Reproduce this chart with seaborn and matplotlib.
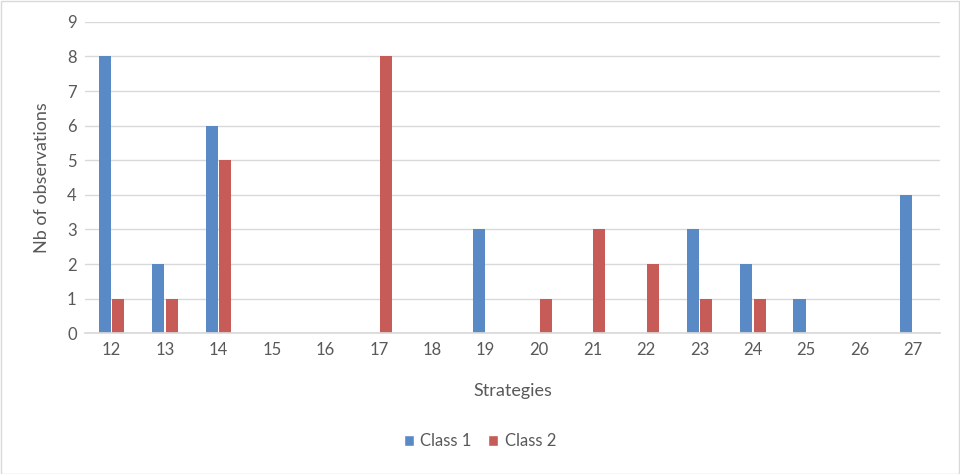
import matplotlib
matplotlib.use("Agg")
import matplotlib.pyplot as plt
import seaborn as sns
import pandas as pd
from matplotlib.patches import Patch

strategies = ["12", "13", "14", "15", "16", "17", "18", "19", "20", "21", "22", "23", "24", "25", "26", "27"]
class1 = [8, 2, 6, 0, 0, 0, 0, 3, 0, 0, 0, 3, 2, 1, 0, 4]
class2 = [1, 1, 5, 0, 0, 8, 0, 0, 1, 3, 2, 1, 1, 0, 0, 0]
series_names = ["Class 1", "Class 2"]
colors = ["#5A8AC6", "#C65B57"]

df = pd.DataFrame({
    "Strategies": strategies * 2,
    "value": class1 + class2,
    "series": [series_names[0]] * len(strategies) + [series_names[1]] * len(strategies),
})

sns.set_theme(style="white")
plt.rcParams['font.family'] = ['Lato', 'DejaVu Sans']

fig = plt.figure(figsize=(9.6, 4.74), dpi=100)
ax = fig.add_axes([0.0885, 0.297, 0.8905, 0.657])
sns.barplot(data=df, x="Strategies", y="value", hue="series", order=strategies,
            hue_order=series_names, palette=colors, width=0.506, gap=0.11,
            legend=False, ax=ax, saturation=1, linewidth=0)

ax.set_ylim(0, 9)
ax.set_yticks(range(0, 10))
ax.set_xlim(-0.5, len(strategies) - 0.5)
ax.grid(axis="y", color="#D9D9D9", linewidth=1)
ax.set_axisbelow(True)
for s in ["top", "right", "left"]:
    ax.spines[s].set_visible(False)
ax.spines["bottom"].set_color("#D9D9D9")
ax.tick_params(axis="both", length=0, labelsize=12, labelcolor="#595959", pad=6)
ax.set_xlabel("Strategies", fontsize=13, color="#595959", labelpad=18)
ax.set_ylabel("Nb of observations", fontsize=13, color="#595959", labelpad=12)

handles = [Patch(facecolor=c, label=n) for c, n in zip(colors, series_names)]
fig.legend(handles=handles, loc="center", bbox_to_anchor=(0.5, 0.069), ncol=2,
           frameon=False, fontsize=12, handlelength=0.6, handleheight=0.6,
           handletextpad=0.4, columnspacing=1.0, labelcolor="#595959")

border = plt.Rectangle((0.001, 0.001), 0.998, 0.997, transform=fig.transFigure,
                       fill=False, edgecolor="#D9D9D9", linewidth=1)
fig.patches.append(border)

fig.savefig("out.png", dpi=100)
